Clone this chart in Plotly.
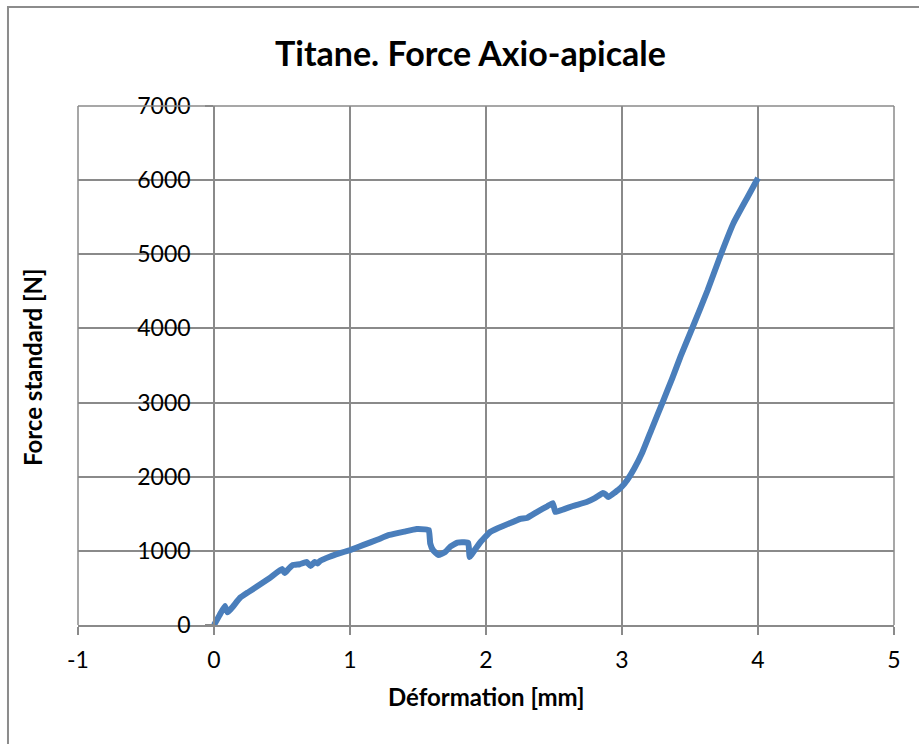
import plotly.graph_objects as go

# Déformation [mm] and force [N] sampled along the test curve
deformation = [0.00, 0.04, 0.08, 0.10, 0.14, 0.19, 0.25, 0.31, 0.41, 0.50, 0.52, 0.55,
               0.58, 0.63, 0.68, 0.71, 0.74, 0.76, 0.78, 0.85, 0.92, 1.00, 1.10,
               1.20, 1.29, 1.40, 1.49, 1.55, 1.58, 1.59, 1.61, 1.65, 1.70, 1.74,
               1.79, 1.84, 1.87, 1.88, 1.92, 1.96, 2.03, 2.09, 2.17, 2.25, 2.30,
               2.38, 2.45, 2.49, 2.50, 2.51, 2.57, 2.64, 2.74, 2.80, 2.86, 2.88,
               2.90, 2.95, 2.99, 3.04, 3.09, 3.15, 3.22, 3.30, 3.37, 3.43, 3.52,
               3.63, 3.72, 3.82, 3.92, 4.00]
force = [0, 130, 256, 170, 250, 364, 440, 513, 634, 755, 700, 760,
         809, 820, 850, 796, 850, 830, 863, 920, 965, 1011, 1080,
         1150, 1214, 1260, 1295, 1290, 1281, 1100, 1011, 944, 985, 1060,
         1110, 1115, 1106, 917, 1020, 1120, 1254, 1308, 1370, 1430, 1443,
         1530, 1600, 1645, 1590, 1524, 1560, 1605, 1659, 1710, 1780, 1760,
         1726, 1790, 1848, 1960, 2110, 2330, 2650, 3010, 3330, 3620, 4019,
         4518, 4964, 5422, 5760, 6029]

x_ticks = [-1, 0, 1, 2, 3, 4, 5]
y_ticks = [0, 1000, 2000, 3000, 4000, 5000, 6000, 7000]

GRID = "#8a8a8a"
FONT = "Lato"

fig = go.Figure(
    go.Scatter(
        x=deformation, y=force, mode="lines",
        line=dict(color="#4A7EBB", width=6, shape="spline", smoothing=0.3),
        hoverinfo="x+y",
    )
)

fig.update_layout(
    width=919, height=744,
    margin=dict(l=78, r=25, t=106, b=119),
    paper_bgcolor="white", plot_bgcolor="white",
    showlegend=False,
    font=dict(family=FONT, color="black"),
    xaxis=dict(
        range=[-1, 5], tickvals=x_ticks, ticktext=[str(v) for v in x_ticks],
        showgrid=True, gridcolor=GRID, gridwidth=1.5,
        showline=True, linecolor=GRID, linewidth=1.5,
        ticks="outside", ticklen=8, tickcolor=GRID, tickwidth=1.5,
        tickfont=dict(size=23, family=FONT), ticklabelstandoff=6,
        zeroline=False, fixedrange=True,
    ),
    yaxis=dict(
        range=[0, 7000], tickvals=y_ticks, ticktext=[str(v) for v in y_ticks],
        anchor="free", position=1 / 6,
        showgrid=True, gridcolor=GRID, gridwidth=1.5,
        showline=True, linecolor=GRID, linewidth=1.5,
        ticks="outside", ticklen=8, tickcolor=GRID, tickwidth=1.5,
        tickfont=dict(size=23, family=FONT), ticklabelstandoff=10,
        zeroline=False, fixedrange=True,
    ),
    shapes=[
        # chart frame
        dict(type="rect", xref="paper", yref="paper",
             x0=-0.0858, x1=1.3, y0=-0.5, y1=1.1908,
             line=dict(color="#8c8c8c", width=2), fillcolor="rgba(0,0,0,0)",
             layer="below"),
        # plot area edges
        dict(type="line", xref="paper", yref="paper", x0=0, x1=1, y0=1, y1=1,
             line=dict(color=GRID, width=1.5)),
        dict(type="line", xref="paper", yref="paper", x0=1, x1=1, y0=0, y1=1,
             line=dict(color=GRID, width=1.5)),
        dict(type="line", xref="paper", yref="paper", x0=0, x1=0, y0=0, y1=1,
             line=dict(color=GRID, width=1.5)),
    ],
    annotations=[
        dict(text="<b>Titane. Force Axio-apicale</b>", xref="paper", yref="paper",
             x=0.4804, y=1.104, xanchor="center", yanchor="middle",
             showarrow=False, font=dict(size=34, family=FONT)),
        dict(text="<b>Déformation [mm]</b>", xref="paper", yref="paper",
             x=0.50, y=-0.1387, xanchor="center", yanchor="middle",
             showarrow=False, font=dict(size=24, family=FONT)),
        dict(text="<b>Force standard [N]</b>", xref="paper", yref="paper",
             x=-0.0564, y=0.497, xanchor="center", yanchor="middle",
             textangle=-90, showarrow=False, font=dict(size=24, family=FONT)),
    ],
)

fig.write_html("out.html")
